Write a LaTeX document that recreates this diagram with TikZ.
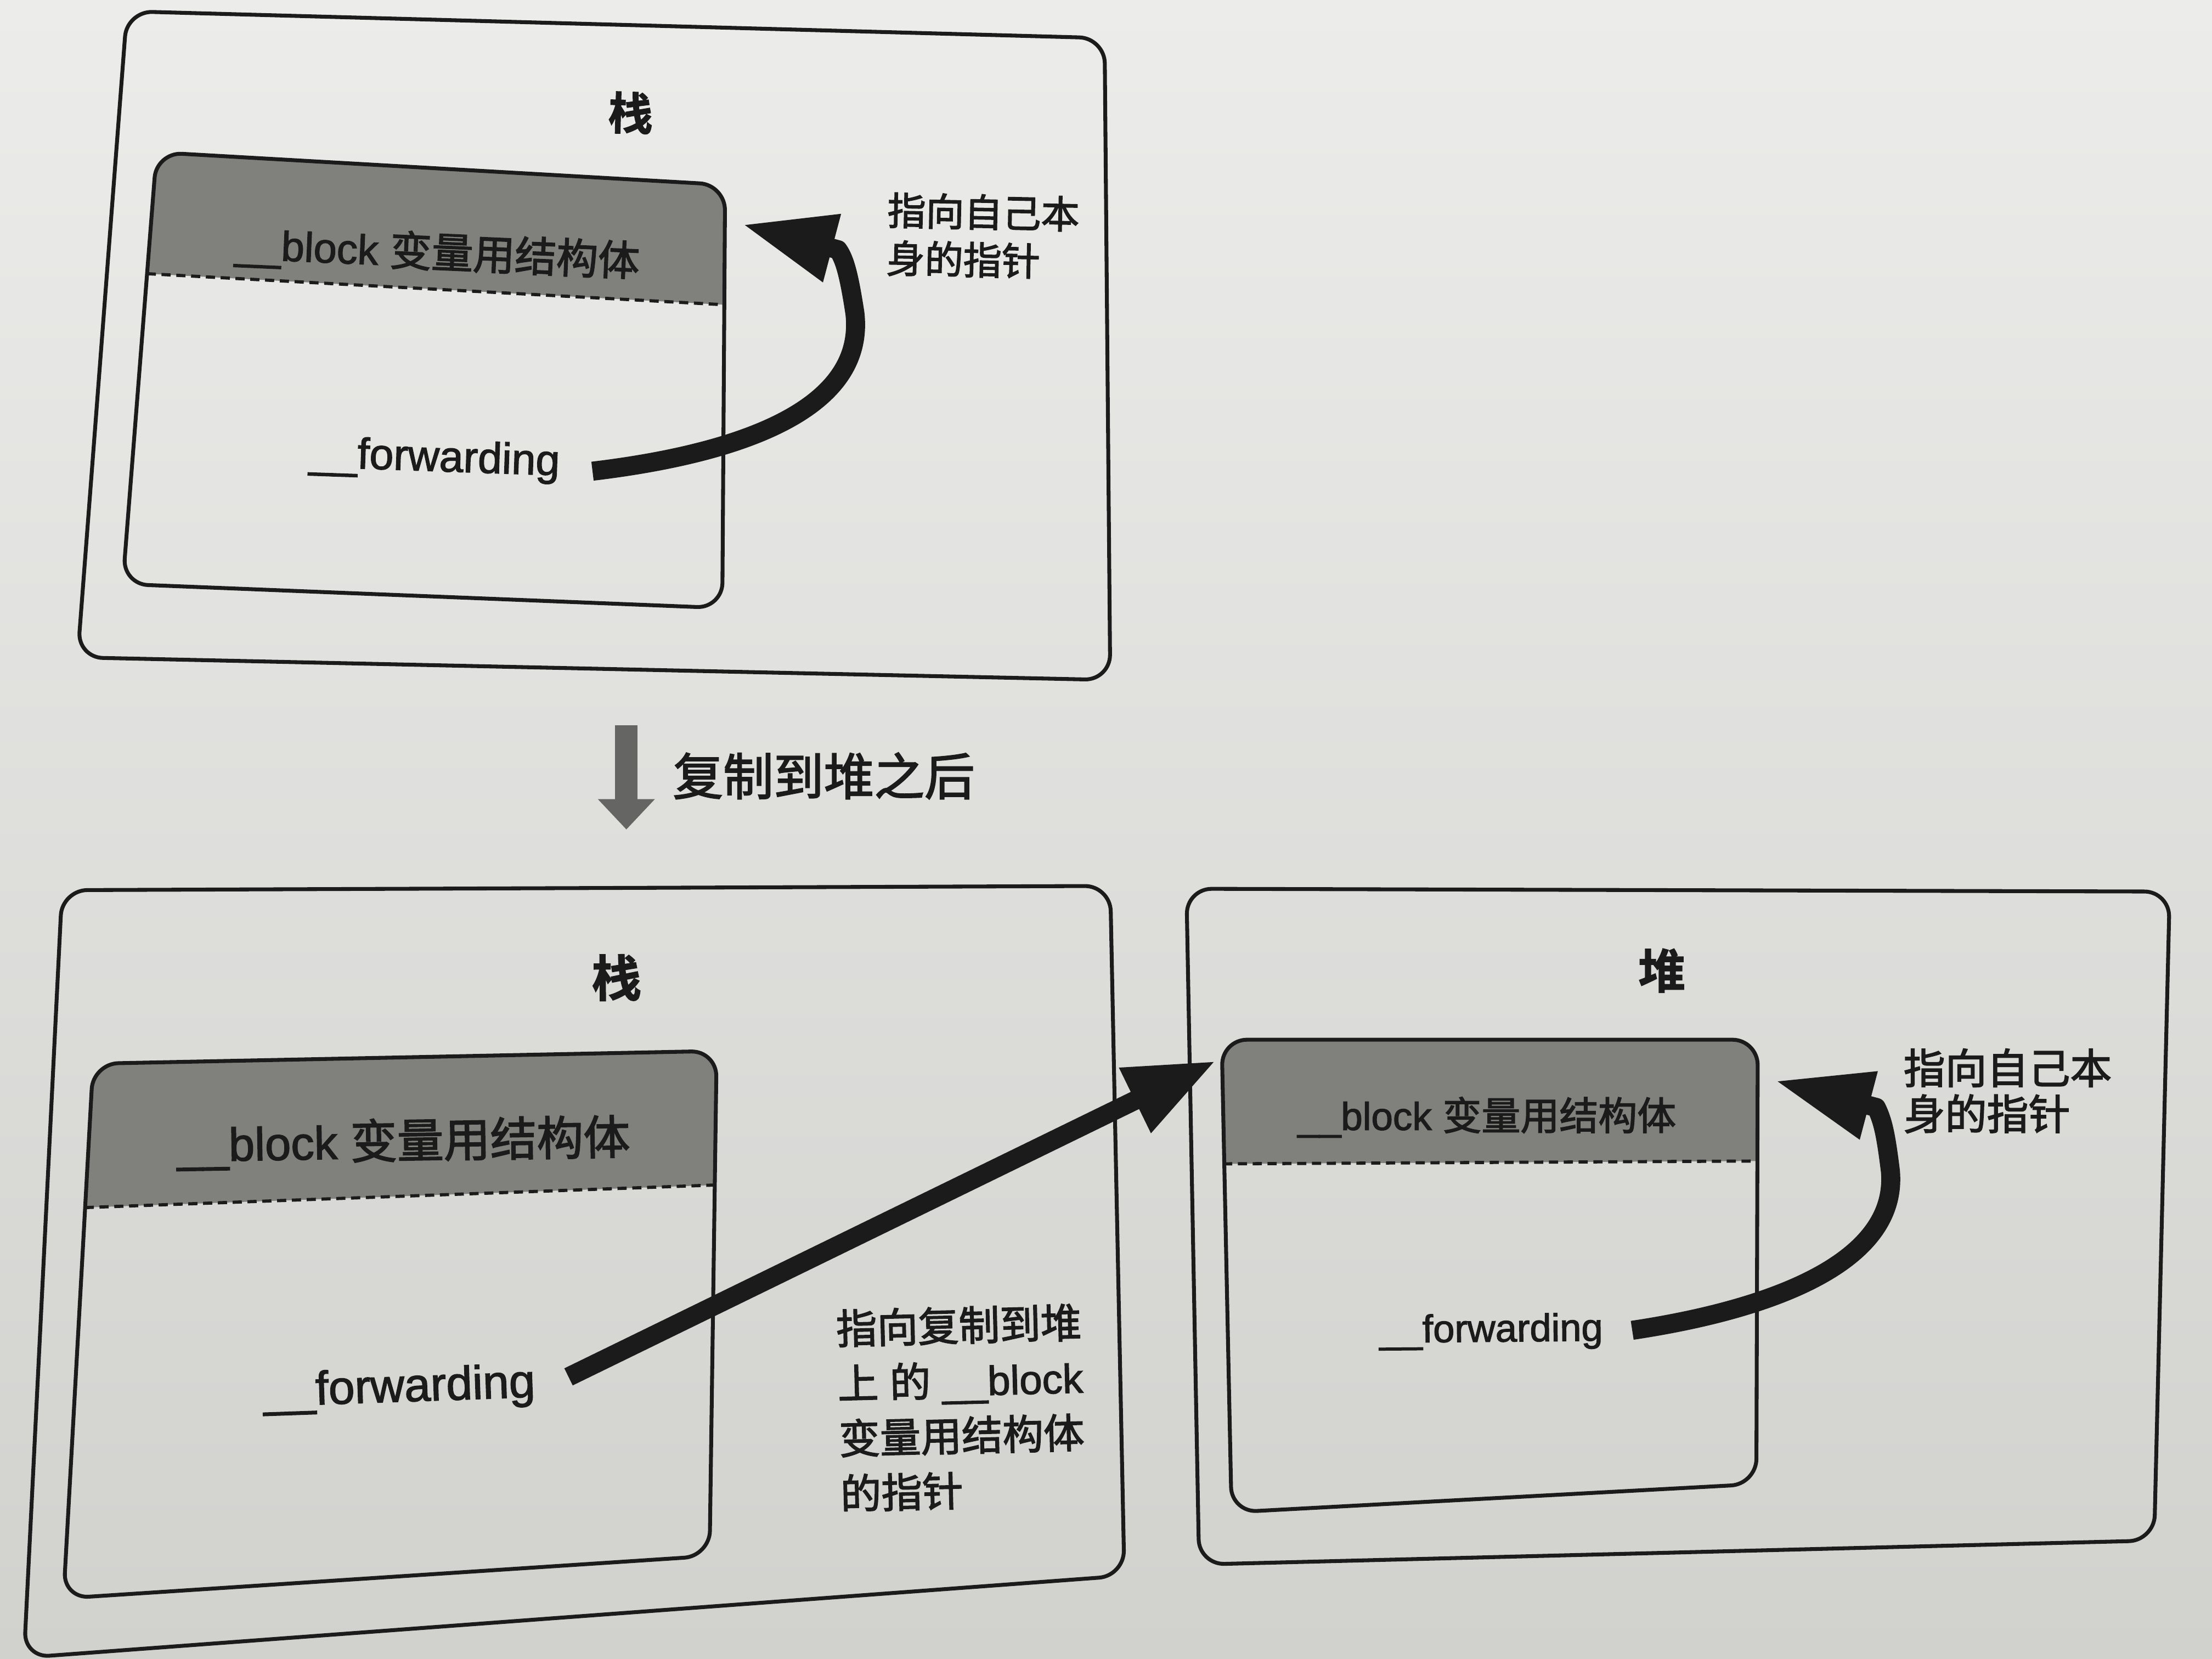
\documentclass[tikz,border=0pt]{standalone}
\usepackage{fontspec}
\setmainfont{Liberation Sans}[FakeBold=1.8]
\newfontfamily\cjk{Noto Sans CJK SC}[FakeBold=2.2]
\newfontfamily\cjkheavy{Noto Sans CJK SC Bold}[FakeBold=1.5]
\usetikzlibrary{arrows.meta,calc}

\definecolor{ink}{HTML}{1B1B1B}
\definecolor{band}{HTML}{80807D}
\definecolor{papertop}{HTML}{ECECEA}
\definecolor{papermid}{HTML}{DEDEDB}
\definecolor{paperbot}{HTML}{D1D1CE}
\definecolor{copyarrow}{HTML}{656563}

% header text of a __block variable struct
\newcommand\blockhdr{\_\_block {\cjk 变量用结构体}}

% a struct box: grey header band above a dashed divider, rounded outline
% uses coordinates #1-1 .. #1-4 (corners) and #1-a, #1-b (divider ends)
\newcommand\structbox[1]{%
  \begin{scope}
    \clip[rounded corners=0.34cm] (#1-1) -- (#1-2) -- (#1-3) -- (#1-4) -- cycle;
    \fill[band] ($(#1-a)!-0.2!(#1-b)$) -- ($(#1-a)!1.2!(#1-b)$) -- ++(0,-200)
      -- ($(#1-a)!-0.2!(#1-b)+(0,-200)$) -- cycle;
  \end{scope}
  \draw[divider] (#1-a) -- (#1-b);
  \draw[outline] (#1-1) -- (#1-2) -- (#1-3) -- (#1-4) -- cycle;
}

\begin{document}
\begin{tikzpicture}[x=0.02cm,y=-0.02cm,
  outline/.style={draw=ink,line width=0.055cm,rounded corners=0.36cm},
  divider/.style={draw=ink,line width=0.045cm,dash pattern=on 0.13cm off 0.08cm},
  lbl/.style={inner sep=0pt,text=ink},
  title/.style={lbl},
  pointer/.style={draw=ink,line width=0.27cm,line join=round,line cap=butt}]

% paper
\shade[top color=papertop,middle color=papermid,bottom color=paperbot]
  (0,0) rectangle (1568,1176);
\useasboundingbox (0,0) rectangle (1568,1176);

% ---------- before the copy: stack ----------
\coordinate (to-1) at (90,8);
\coordinate (to-2) at (783,27);
\coordinate (to-3) at (787,482);
\coordinate (to-4) at (55,466);
\draw[outline] (to-1) -- (to-2) -- (to-3) -- (to-4) -- cycle;

\coordinate (ti-1) at (111,108);
\coordinate (ti-2) at (514,131);
\coordinate (ti-3) at (512,431);
\coordinate (ti-4) at (87,414);
\coordinate (ti-a) at (104,194);
\coordinate (ti-b) at (513,216);
\structbox{ti}

\node[title,font=\cjkheavy\fontsize{18}{20}\selectfont,rotate=-1.5] (t-title) at (447,80) {栈};
\node[lbl,font=\fontsize{16.8}{20}\selectfont,rotate=-2.5] (t-hdr) at (310,180) {\blockhdr};
\node[lbl,font=\fontsize{17.5}{20}\selectfont,rotate=-2] (t-fwd) at (308,326) {\_\_forwarding};
\node[lbl,font=\cjk\fontsize{15.5}{19.3}\selectfont,align=left,anchor=north west,rotate=-1.2]
  (t-note) at (629,136) {指向自己本\\身的指针};

\coordinate (t-from) at (420,334);
\coordinate (t-bend) at (594,177);
\coordinate (t-to) at (526,159);
\draw[pointer,-{Triangle[length=1.32cm,width=0.92cm]}]
  (t-from) .. controls (520,322) and (614,292) .. (606,222)
  .. controls (602,196) and (599,184) .. (t-bend) -- (t-to);

% ---------- the copy step ----------
\coordinate (c-from) at (444,514);
\coordinate (c-to) at (444,588);
\draw[draw=copyarrow,line width=0.32cm,-{Triangle[length=0.43cm,width=0.78cm]}] (c-from) -- (c-to);
\node[lbl,font=\cjk\fontsize{20.3}{24}\selectfont] (c-note) at (584,550) {复制到堆之后};

% ---------- after the copy: stack ----------
\coordinate (lo-1) at (44,631);
\coordinate (lo-2) at (787,628);
\coordinate (lo-3) at (797,1117);
\coordinate (lo-4) at (17,1175);
\draw[outline] (lo-1) -- (lo-2) -- (lo-3) -- (lo-4) -- cycle;

\coordinate (li-1) at (66,754);
\coordinate (li-2) at (508,745);
\coordinate (li-3) at (503,1103);
\coordinate (li-4) at (45,1133);
\coordinate (li-a) at (60,856);
\coordinate (li-b) at (507,840);
\structbox{li}

\node[title,font=\cjkheavy\fontsize{20}{22}\selectfont,rotate=0.5] (l-title) at (437,693) {栈};
\node[lbl,font=\fontsize{18.8}{22}\selectfont,rotate=1] (l-hdr) at (286,810) {\blockhdr};
\node[lbl,font=\fontsize{19}{22}\selectfont,rotate=2] (l-fwd) at (283,985) {\_\_forwarding};
\node[lbl,font=\fontsize{16.5}{22.2}\selectfont,align=left,anchor=north west,rotate=1.5]
  (m-note) at (592,928)
  {{\cjk 指向复制到堆}\\{\cjk 上} {\cjk 的} \_\_block\\{\cjk 变量用结构体}\\{\cjk 的指针}};

% ---------- after the copy: heap ----------
\coordinate (ro-1) at (841,630);
\coordinate (ro-2) at (1538,632);
\coordinate (ro-3) at (1527,1092);
\coordinate (ro-4) at (850,1109);
\draw[outline] (ro-1) -- (ro-2) -- (ro-3) -- (ro-4) -- cycle;

\coordinate (ri-1) at (866,737);
\coordinate (ri-2) at (1246,737);
\coordinate (ri-3) at (1245,1052);
\coordinate (ri-4) at (873,1072);
\coordinate (ri-a) at (867,825);
\coordinate (ri-b) at (1246,823);
\structbox{ri}

\node[title,font=\cjkheavy\fontsize{19}{21}\selectfont] (r-title) at (1178,688) {堆};
\node[lbl,font=\fontsize{15.7}{19}\selectfont] (r-hdr) at (1054,792) {\blockhdr};
\node[lbl,font=\fontsize{15.6}{19}\selectfont,rotate=0.5] (r-fwd) at (1057,944) {\_\_forwarding};
\node[lbl,font=\cjk\fontsize{16.8}{18.5}\selectfont,align=left,anchor=north west]
  (r-note) at (1349,743) {指向自己本\\身的指针};

% stack copy points to the heap copy
\coordinate (l-from) at (403,976);
\coordinate (l-to) at (862,752);
\draw[pointer,-{Triangle[length=1.28cm,width=0.95cm]}] (l-from) -- (l-to);

% heap copy points to itself
\coordinate (r-from) at (1157,943);
\coordinate (r-bend) at (1330,785);
\coordinate (r-to) at (1258,766);
\draw[pointer,-{Triangle[length=1.38cm,width=0.92cm]}]
  (r-from) .. controls (1250,929) and (1346,897) .. (1340,830)
  .. controls (1337,806) and (1335,795) .. (r-bend) -- (r-to);

\end{tikzpicture}
\end{document}
